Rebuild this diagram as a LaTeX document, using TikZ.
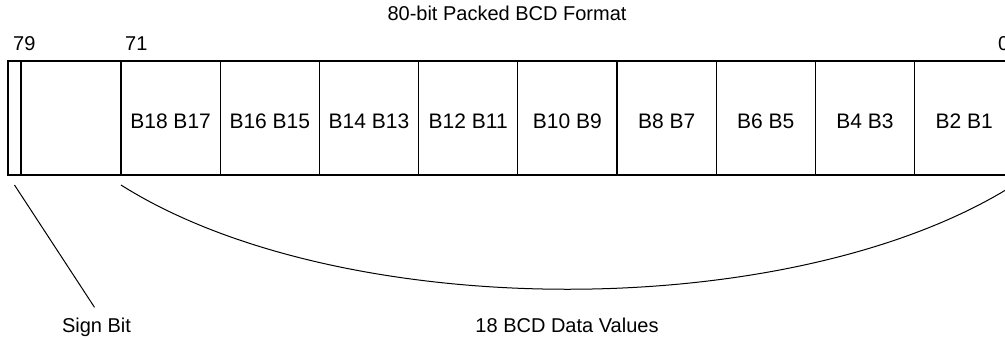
\documentclass[tikz,border=0pt]{standalone}
\usepackage{fontspec}
\setmainfont{Liberation Sans}
\usetikzlibrary{positioning}

\begin{document}
\begin{tikzpicture}[
  x=1pt, y=-1pt,
  node distance=0pt,
  cell/.style={draw, line width=1.2pt, outer sep=0pt, inner sep=0pt, minimum width=99.2pt, minimum height=114pt, text height=20pt, text depth=0pt, font=\fontsize{21}{25}\selectfont},
  lbl/.style={inner sep=0pt, font=\fontsize{20}{24}\selectfont},
  lead/.style={line width=1pt}
]
\useasboundingbox (0,0) rectangle (1005,338);
\node[lbl, anchor=base] (title) at (507,20) {80-bit Packed BCD Format};
\node[cell, minimum width=13pt, anchor=north west] (sign) at (8,61) {};
\node[cell, minimum width=100pt, right=of sign] (unused) {};
\node[cell, right=of unused] (b18) {B18 B17};
\node[cell, right=of b18] (b16) {B16 B15};
\node[cell, right=of b16] (b14) {B14 B13};
\node[cell, right=of b14] (b12) {B12 B11};
\node[cell, right=of b12] (b10) {B10 B9};
\node[cell, right=of b10] (b8) {B8 B7};
\node[cell, right=of b8] (b6) {B6 B5};
\node[cell, right=of b6] (b4) {B4 B3};
\node[cell, right=of b4] (b2) {B2 B1};
\node[lbl, anchor=base west] (n79) at ([xshift=5pt, yshift=11pt]sign.north west) {79};
\node[lbl, anchor=base west] (n71) at ([xshift=4pt, yshift=11pt]b18.north west) {71};
\node[lbl, anchor=base west] (n0) at ([xshift=-16pt, yshift=11pt]b2.north east) {0};
\node[lbl, anchor=base] (signlbl) at (96.5,332) {Sign Bit};
\node[lbl, anchor=base] (datalbl) at (567,332) {18 BCD Data Values};
\draw[lead] ([yshift=-10pt]sign.south) -- ([xshift=-2pt, yshift=10pt]signlbl.north);
\draw[lead] ([yshift=-10pt]b18.south west) .. controls +(220,139) and +(-220,139) .. ([yshift=-10pt]b2.south east);
\end{tikzpicture}
\end{document}
